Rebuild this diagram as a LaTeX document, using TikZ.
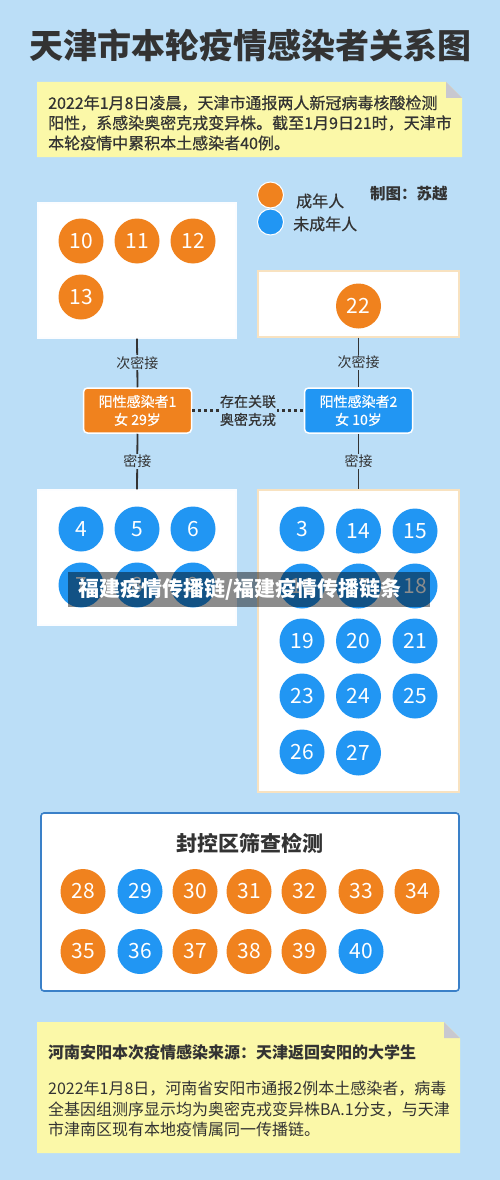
\documentclass[tikz,border=0pt]{standalone}
\usepackage{fontspec}
\setmainfont{Noto Sans CJK SC}
\newfontfamily\medfont[FakeBold=0.6]{Noto Sans CJK SC}
\definecolor{bgc}{RGB}{187,222,247}
\definecolor{cO}{RGB}{240,130,30}
\definecolor{cB}{RGB}{33,150,243}
\definecolor{noteY}{RGB}{251,248,168}
\definecolor{foldG}{RGB}{200,200,208}
\definecolor{txt}{RGB}{51,51,51}
\definecolor{cream}{RGB}{248,226,192}
\definecolor{scrB}{RGB}{58,128,200}
\newcommand\myfs[1]{\fontsize{#1}{#1}\selectfont}
\begin{document}
\begin{tikzpicture}[x=1pt,y=-1pt,
  pO/.style={circle, fill=cO, text=white, minimum size=45pt, inner sep=0pt, font=\myfs{21}},
  pB/.style={circle, fill=cB, text=white, minimum size=45pt, inner sep=0pt, font=\myfs{21}},
  wbox/.style={rectangle, fill=white, draw=#1, line width=1.2pt, inner sep=0pt},
  conn/.style={draw=txt, line width=1.8pt},
  lab/.style={fill=bgc, text=txt, inner sep=1pt, font=\myfs{14}},
  person/.style={rectangle, rounded corners=4pt, draw=white, line width=1.5pt, fill=#1, text=white,
     minimum width=108pt, minimum height=45pt, align=center, font=\medfont\fontsize{14}{18}\selectfont},
  ntext/.style={anchor=west, text=txt, inner sep=0pt, font=\myfs{16}}
]
\useasboundingbox (0,0) rectangle (500,1180);
\fill[bgc] (0,0) rectangle (500,1180);

% title
\node[text=txt, font=\bfseries\myfs{34}] (title) at (250,45) {天津市本轮疫情感染者关系图};

% top note
\fill[noteY] (37,82) -- (446,82) -- (462,98) -- (462,157) -- (37,157) -- cycle;
\fill[foldG] (446,82) -- (462,98) -- (446,98) -- cycle;
\node[ntext, font=\medfont\myfs{16}] (n1) at (48,103) {2022年1月8日凌晨，天津市通报两人新冠病毒核酸检测};
\node[ntext, font=\medfont\myfs{16}] (n2) at (48,123) {阳性，系感染奥密克戎变异株。截至1月9日21时，天津市};
\node[ntext, font=\medfont\myfs{16}] (n3) at (48,143) {本轮疫情中累积本土感染者40例。};

% legend
\node[circle, fill=cO, draw=white, line width=1pt, minimum size=26pt, inner sep=0pt] (legO) at (270.5,195) {};
\node[circle, fill=cB, draw=white, line width=1pt, minimum size=26pt, inner sep=0pt] (legB) at (270.5,222) {};
\node[anchor=west, text=txt, inner sep=0pt, font=\medfont\myfs{16}] (legOt) at (296,201) {成年人};
\node[anchor=west, text=txt, inner sep=0pt, font=\medfont\myfs{16}] (legBt) at (293,224) {未成年人};
\node[anchor=west, text=txt, inner sep=0pt, font=\bfseries\myfs{15.5}] (author) at (370,194) {制图：苏越};

% top boxes
\node[wbox=white!95!bgc, minimum width=198pt, minimum height=135pt] (g1) at (137,270.5) {};
\node[wbox=cream, minimum width=201pt, minimum height=66pt] (g2) at (358.5,304) {};
\node[pO] (c10) at (81,241) {10};
\node[pO] (c11) at (137,241) {11};
\node[pO] (c12) at (193,241) {12};
\node[pO] (c13) at (81,297) {13};
\node[pO] (c22) at (358.5,306) {22};

% persons
\node[person=cO] (p1) at (137.5,410.5) {阳性感染者1\\女 29岁};
\node[person=cB] (p2) at (358.5,410.5) {阳性感染者2\\女 10岁};

% bottom boxes
\node[wbox=white!95!bgc, minimum width=198pt, minimum height=135pt] (g3) at (137,557.5) {};
\node[wbox=cream, minimum width=201pt, minimum height=302pt] (g4) at (358.5,641) {};

% connectors
\draw[conn] (g1.south) -- node[lab] (l1) {次密接} (p1.north);
\draw[conn] (g2.south) -- node[lab] (l2) {次密接} (p2.north);
\draw[conn] (p1.south) -- node[lab] (l3) {密接} (g3.north);
\draw[conn] (p2.south) -- node[lab] (l4) {密接} (g4.north);
\draw[draw=txt, line width=2.5pt, dash pattern=on 2.5pt off 3.5pt] (p1.east) -- node[lab, align=center, font=\medfont\fontsize{14}{18}\selectfont] (rel) {存在关联\\奥密克戎} (p2.west);

% left bottom circles
\node[pB] (c4) at (81,529) {4};
\node[pB] (c5) at (137,529) {5};
\node[pB] (c6) at (193,529) {6};
\node[pB] (c7) at (81,585) {7};
\node[pB] (c8) at (137,585) {8};
\node[pB] (c9) at (193,585) {9};

% right bottom circles
\node[pB] (c3) at (302,529) {3};
\node[pB] (c14) at (358.5,531) {14};
\node[pB] (c15) at (415,531) {15};
\node[pB] (c16) at (302,586) {16};
\node[pB] (c17) at (358.5,586) {17};
\node[pB] (c18) at (415,586) {18};
\node[pB] (c19) at (302,641) {19};
\node[pB] (c20) at (358.5,641) {20};
\node[pB] (c21) at (415,641) {21};
\node[pB] (c23) at (302,696) {23};
\node[pB] (c24) at (358.5,696) {24};
\node[pB] (c25) at (415,696) {25};
\node[pB] (c26) at (302,752) {26};
\node[pB] (c27) at (358.5,753) {27};

% banner overlay
\fill[black, opacity=0.45] (68,572) rectangle (430,607);
\node[text=white, font=\bfseries\myfs{21}, inner sep=0pt] (banner) at (240,589.5) {福建疫情传播链/福建疫情传播链条};

% screening box
\node[rectangle, rounded corners=3pt, fill=white, draw=scrB, line width=1.6pt, minimum width=418pt, minimum height=178pt] (scr) at (250,902) {};
\node[text=txt, font=\bfseries\myfs{21}] (scrt) at (250,843) {封控区筛查检测};
\node[pO] (c28) at (83,891.5) {28};
\node[pB] (c29) at (140,891.5) {29};
\node[pO] (c30) at (195,891.5) {30};
\node[pO] (c31) at (249,891.5) {31};
\node[pO] (c32) at (304,891.5) {32};
\node[pO] (c33) at (361,891.5) {33};
\node[pO] (c34) at (417,891.5) {34};
\node[pO] (c35) at (83,951.5) {35};
\node[pB] (c36) at (140,951.5) {36};
\node[pO] (c37) at (195,951.5) {37};
\node[pO] (c38) at (249,951.5) {38};
\node[pO] (c39) at (304,951.5) {39};
\node[pB] (c40) at (361,951.5) {40};

% bottom note
\fill[noteY] (37,1022) -- (444,1022) -- (460,1038) -- (460,1153) -- (37,1153) -- cycle;
\fill[foldG] (444,1022) -- (460,1038) -- (444,1038) -- cycle;
\node[ntext, font=\bfseries\myfs{16}] (b0) at (48,1052) {河南安阳本次疫情感染来源：天津返回安阳的大学生};
\node[ntext] (b1) at (48,1089) {2022年1月8日，河南省安阳市通报2例本土感染者，病毒};
\node[ntext] (b2) at (48,1110) {全基因组测序显示均为奥密克戎变异株BA.1分支，与天津};
\node[ntext] (b3) at (48,1129) {市津南区现有本地疫情属同一传播链。};
\end{tikzpicture}
\end{document}
